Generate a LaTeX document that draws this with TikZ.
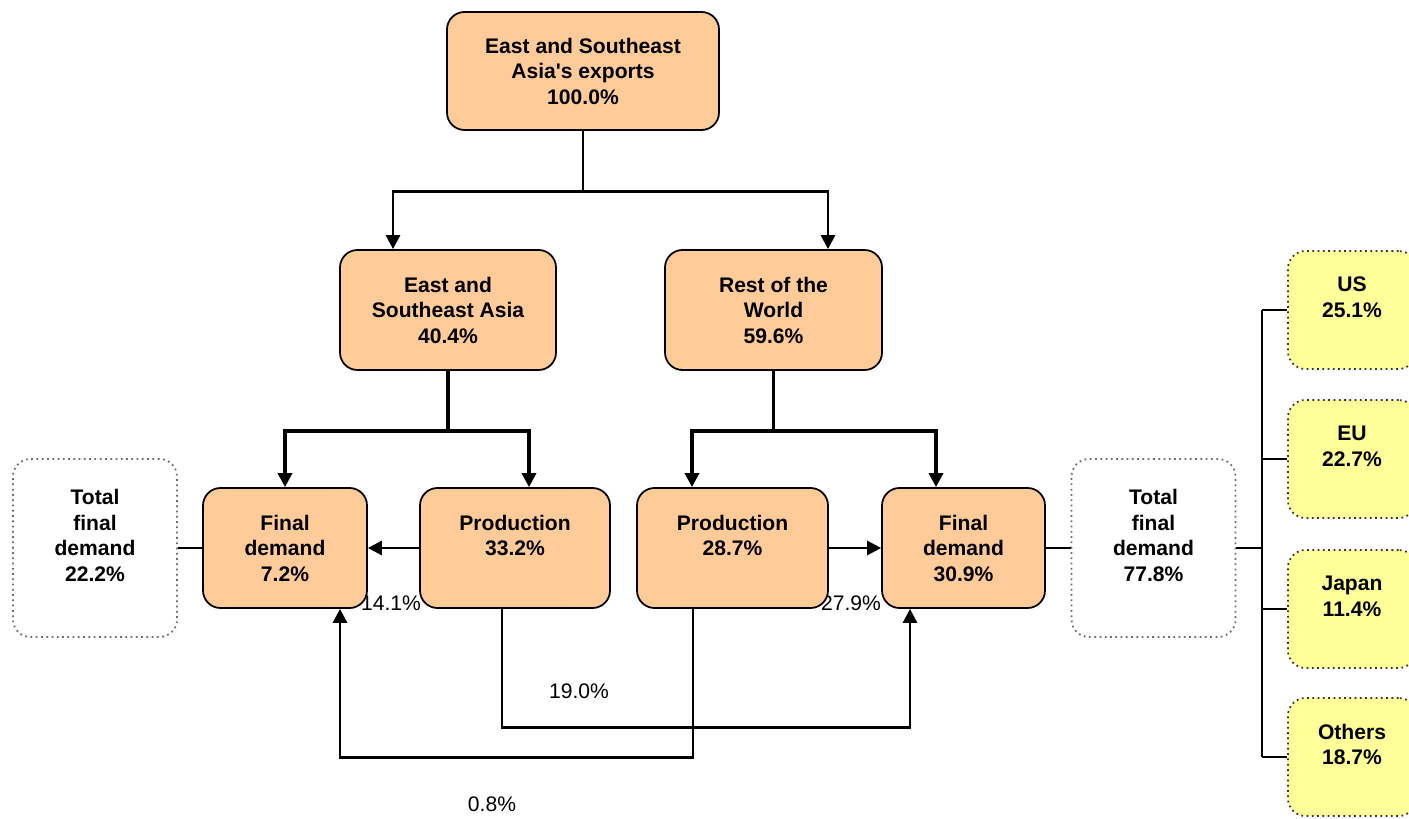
\documentclass[tikz,border=0pt]{standalone}
\usepackage{fontspec}
\setmainfont{Liberation Sans}
\usetikzlibrary{arrows.meta}

\definecolor{peach}{HTML}{FFCC99}
\definecolor{paleyellow}{HTML}{FFFF99}

\tikzset{
  flowbox/.style={draw, line width=1pt, fill=peach, rounded corners=0.35cm,
    align=center, inner sep=2pt, font=\bfseries\fontsize{12}{14.5}\selectfont},
  totalbox/.style={draw=gray!85!black, dotted, line width=1pt, rounded corners=0.35cm,
    align=center, minimum width=3.28cm, minimum height=3.56cm,
    font=\bfseries\fontsize{12}{14.5}\selectfont},
  regionbox/.style={draw=black!80, dotted, line width=1pt, fill=paleyellow,
    rounded corners=0.35cm, align=center, minimum width=2.56cm, minimum height=2.36cm,
    font=\bfseries\fontsize{12}{14.5}\selectfont},
  flow/.style={line width=1.6pt, -{Triangle[width=8pt,length=8pt]}},
  link/.style={line width=1pt},
  share/.style={font=\fontsize{12}{14}\selectfont}
}

\begin{document}
\begin{tikzpicture}

        \clip (0,0) rectangle (28.18,16.36);

        % shares (drawn first, the boxes sit over them)
            \node[share] (s141) at (7.82,4.30) {14.1\%};
            \node[share] (s279) at (17.02,4.30) {27.9\%};
            \node[share] (s190) at (11.58,2.54) {19.0\%};
            \node[share] (s08) at (9.84,0.28) {0.8\%};

        % boxes
            \node[flowbox, minimum width=5.44cm, minimum height=2.36cm] (exports) at (11.66,14.94) {East and Southeast\\Asia\textquotesingle s exports\\100.0\%};
            \node[flowbox, minimum width=4.32cm, minimum height=2.4cm] (esa) at (8.96,10.16) {East and\\Southeast Asia\\40.4\%};
            \node[flowbox, minimum width=4.34cm, minimum height=2.4cm] (row) at (15.47,10.16) {Rest of the\\World\\59.6\%};
            \node[flowbox, minimum width=3.28cm, minimum height=2.4cm] (fdl) at (5.70,5.40) {Final\\demand\\7.2\%};
            \node[flowbox, minimum width=3.80cm, minimum height=2.4cm] (prl) at (10.30,5.40) {Production\\33.2\%\\~};
            \node[flowbox, minimum width=3.82cm, minimum height=2.4cm] (prr) at (14.65,5.40) {Production\\28.7\%\\~};
            \node[flowbox, minimum width=3.26cm, minimum height=2.4cm] (fdr) at (19.27,5.40) {Final\\demand\\30.9\%};

        % total final demand
            \node[totalbox] (tfl) at (1.90,5.40) {Total\\final\\demand\\22.2\%\\~};
            \node[totalbox] (tfr) at (23.07,5.40) {Total\\final\\demand\\77.8\%\\~};

        % destinations
            \node[regionbox] (us) at (27.04,10.16) {US\\25.1\%\\~};
            \node[regionbox] (eu) at (27.04,7.18) {EU\\22.7\%\\~};
            \node[regionbox] (jp) at (27.04,4.18) {Japan\\11.4\%\\~};
            \node[regionbox] (ot) at (27.04,1.22) {Others\\18.7\%\\~};
            \coordinate (bus) at (25.24,5.40);

        % flows
            \draw[flow] (exports.south) -- ++(0,-1.22) -| ([xshift=-1.10cm]esa.north);
            \draw[flow] (exports.south) -- ++(0,-1.22) -| ([xshift=1.09cm]row.north);
            \draw[flow, line width=1.9pt] (esa.south) -- ++(0,-1.2) -| (fdl.north);
            \draw[flow, line width=1.9pt] (esa.south) -- ++(0,-1.2) -| ([xshift=0.28cm]prl.north);
            \draw[flow, line width=1.9pt] (row.south) -- ++(0,-1.2) -| ([xshift=-0.81cm]prr.north);
            \draw[flow, line width=1.9pt] (row.south) -- ++(0,-1.2) -| ([xshift=-0.55cm]fdr.north);
            \draw[flow] (prl.west) -- (fdl.east);
            \draw[flow] (prr.east) -- (fdr.west);
            \draw[flow] ([xshift=-0.26cm]prl.south) -- ++(0,-2.38) -| ([xshift=-1.07cm]fdr.south);
            \draw[flow] ([xshift=-0.79cm]prr.south) -- ++(0,-2.98) -| ([xshift=1.10cm]fdl.south);

        % links to totals
            \draw[link] (tfl.east) -- (fdl.west);
            \draw[link] (fdr.east) -- (tfr.west);
            \draw[link] (tfr.east) -- (bus);
            \draw[link] (bus |- us.west) -- (bus |- ot.west);
            \foreach \r in {us,eu,jp,ot}
                \draw[link] (bus |- \r.west) -- (\r.west);

\end{tikzpicture}
\end{document}
